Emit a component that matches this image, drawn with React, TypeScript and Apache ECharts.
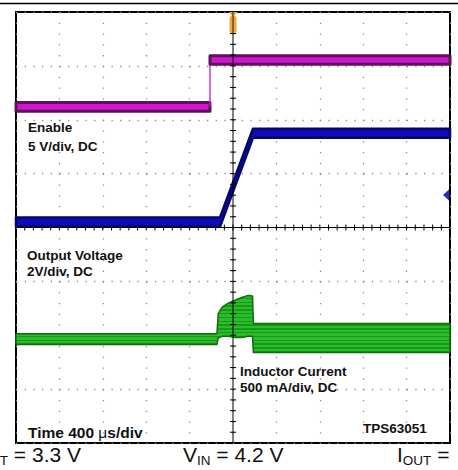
import React, { useEffect, useRef } from "react";
import * as echarts from "echarts";

// ---------- data (screen divisions: 10 horizontal x 8 vertical) ----------
const xDivisions = [0, 10];
const yDivisions = [0, 8];

// Enable (5 V/div)
const enableTime = [0, 4.47, 4.47, 10];
const enableLevel = [6.24, 6.24, 7.11, 7.11];

// Output voltage (2 V/div)
const voutTime = [0, 4.7, 5.46, 10];
const voutLevel = [4.1, 4.1, 5.75, 5.75];

// Inductor current (500 mA/div) upper / lower envelope of the switching ripple
const currentTime = [0, 4.63, 4.66, 4.75, 4.9, 5.05, 5.2, 5.35, 5.45, 5.47, 10];
const currentUpper = [2.03, 2.03, 2.4, 2.52, 2.6, 2.65, 2.7, 2.74, 2.73, 2.22, 2.22];
const currentLower = [1.83, 1.83, 1.95, 1.98, 1.98, 1.96, 1.96, 1.98, 1.98, 1.68, 1.68];

// ---------- styling ----------
const W = 458;
const H = 470;
const FONT = '"Liberation Sans", Arial, Helvetica, sans-serif';
const enableHalf = 0.08;
const voutHalf = 0.085;

function stripes(light: string, dark: string, n: number) {
  const stops: any[] = [];
  for (let i = 0; i < n; i++) {
    const a = i / n;
    const m = (i + 0.62) / n;
    const b = (i + 1) / n;
    stops.push({ offset: a, color: light });
    stops.push({ offset: m, color: light });
    stops.push({ offset: m, color: dark });
    stops.push({ offset: b, color: dark });
  }
  return new echarts.graphic.LinearGradient(0, 0, 0, 1, stops);
}

function bandRenderer(
  times: number[],
  upper: number[],
  lower: number[],
  fill: any,
  stroke: string,
  strokeW: number,
  stepColor: string
) {
  return (_params: any, api: any) => {
    const children: any[] = [];
    let start = 0;
    const flush = (end: number) => {
      if (end > start) {
        const pts: number[][] = [];
        for (let i = start; i <= end; i++) pts.push(api.coord([times[i], upper[i]]));
        for (let i = end; i >= start; i--) pts.push(api.coord([times[i], lower[i]]));
        children.push({
          type: "polygon",
          shape: { points: pts },
          style: { fill, stroke, lineWidth: strokeW, lineJoin: "round" },
        });
      }
    };
    for (let i = 0; i < times.length - 1; i++) {
      if (times[i + 1] === times[i]) {
        flush(i);
        const a = api.coord([times[i], (upper[i] + lower[i]) / 2]);
        const b = api.coord([times[i + 1], (upper[i + 1] + lower[i + 1]) / 2]);
        children.push({
          type: "line",
          shape: { x1: a[0], y1: a[1], x2: b[0], y2: b[1] },
          style: { stroke: stepColor, lineWidth: 1.3 },
        });
        start = i + 1;
      }
    }
    flush(times.length - 1);
    return { type: "group", children };
  };
}

function reticleRenderer(_params: any, api: any) {
  const children: any[] = [];
  const cx = (xDivisions[0] + xDivisions[1]) / 2;
  const cy = (yDivisions[0] + yDivisions[1]) / 2;
  const c = api.coord([cx, cy]);
  const l = api.coord([xDivisions[0], cy]);
  const r = api.coord([xDivisions[1], cy]);
  const t = api.coord([cx, yDivisions[1]]);
  const b = api.coord([cx, yDivisions[0]]);
  const st = { stroke: "#000", lineWidth: 1 };
  children.push({ type: "line", shape: { x1: l[0], y1: c[1], x2: r[0], y2: c[1] }, style: st });
  children.push({ type: "line", shape: { x1: c[0], y1: t[1], x2: c[0], y2: b[1] }, style: st });
  for (let k = 1; k < (xDivisions[1] - xDivisions[0]) * 5; k++) {
    const p = api.coord([xDivisions[0] + k / 5, cy]);
    children.push({ type: "line", shape: { x1: p[0], y1: p[1] - 3, x2: p[0], y2: p[1] + 3 }, style: st });
  }
  for (let k = 1; k < (yDivisions[1] - yDivisions[0]) * 5; k++) {
    const p = api.coord([cx, yDivisions[0] + k / 5]);
    children.push({ type: "line", shape: { x1: p[0] - 3, y1: p[1], x2: p[0] + 3, y2: p[1] }, style: st });
  }
  return { type: "group", children };
}

function label(text: string, x: number, y: number, size = 13.5) {
  return {
    type: "text",
    x,
    y,
    z: 20,
    style: {
      text,
      font: `bold ${size}px ${FONT}`,
      fill: "#111",
      textVerticalAlign: "middle",
      verticalAlign: "middle",
    },
  };
}

function subText(main: string, sub: string, rest: string, x: number, align: string) {
  return {
    type: "text",
    x,
    y: 442,
    z: 20,
    style: {
      text: `{v|${main}}{s|${sub}}{v|${rest}}`,
      textAlign: align,
      align,
      textVerticalAlign: "top",
      verticalAlign: "top",
      rich: {
        v: { fontSize: 21, fontFamily: FONT, fill: "#111", lineHeight: 25 },
        s: { fontSize: 13.5, fontFamily: FONT, fill: "#111", lineHeight: 16, verticalAlign: "bottom" },
      },
    },
  };
}

export default function App() {
  const ref = useRef<HTMLDivElement>(null);

  useEffect(() => {
    if (!ref.current) return;
    const chart = echarts.init(ref.current, null, { renderer: "svg" });
    const option: any = {
      animation: false,
      backgroundColor: "#fff",
      grid: {
        left: 16,
        top: 12,
        width: 434,
        height: 431,
        show: true,
        backgroundColor: "#fff",
        borderColor: "#000",
        borderWidth: 2,
      },
      xAxis: {
        type: "value",
        min: xDivisions[0],
        max: xDivisions[1],
        interval: 1,
        axisLine: { show: false },
        axisTick: { show: false },
        axisLabel: { show: false },
        splitLine: { show: true, lineStyle: { color: "#8c8c8c", width: 1.3, type: [1.3, 9.475] } },
      },
      yAxis: {
        type: "value",
        min: yDivisions[0],
        max: yDivisions[1],
        interval: 1,
        axisLine: { show: false },
        axisTick: { show: false },
        axisLabel: { show: false },
        splitLine: { show: true, lineStyle: { color: "#8c8c8c", width: 1.3, type: [1.3, 7.38] } },
      },
      series: [
        {
          type: "custom",
          name: "Enable",
          silent: true,
          z: 3,
          data: [[0, 0]],
          renderItem: bandRenderer(
            enableTime,
            enableLevel.map((v) => v + enableHalf),
            enableLevel.map((v) => v - enableHalf),
            "#d214d2",
            "#5a1259",
            3,
            "#c218c2"
          ),
        },
        {
          type: "custom",
          name: "Output Voltage",
          silent: true,
          z: 3,
          data: [[0, 0]],
          renderItem: bandRenderer(
            voutTime,
            voutLevel.map((v) => v + voutHalf),
            voutLevel.map((v) => v - voutHalf),
            "#0c0cb8",
            "#05056a",
            2.5,
            "#0c0cb8"
          ),
        },
        {
          type: "custom",
          name: "Inductor Current",
          silent: true,
          z: 3,
          data: [[0, 0]],
          renderItem: bandRenderer(
            currentTime,
            currentUpper,
            currentLower,
            stripes("#2cbb2c", "#169a16", 15),
            "#0b6e0b",
            1.5,
            "#1fae1f"
          ),
        },
        {
          type: "custom",
          name: "reticle",
          silent: true,
          z: 6,
          data: [[0, 0]],
          renderItem: reticleRenderer,
        },
      ],
      graphic: [
        { type: "line", shape: { x1: 0, y1: 3.5, x2: W, y2: 3.5 }, style: { stroke: "#000", lineWidth: 1.5 }, z: 20 },
        // trigger marker
        { type: "polygon", shape: { points: [[228.5, 12], [237.5, 12], [233, 17]] }, style: { fill: "#f2a53a" }, z: 21 },
        { type: "rect", shape: { x: 229.5, y: 16, width: 7, height: 17, r: 2 }, style: { fill: "#f2a53a" }, z: 21 },
        { type: "line", shape: { x1: 233, y1: 12, x2: 233, y2: 34 }, style: { stroke: "#222", lineWidth: 1 }, z: 22 },
        // channel 2 reference marker
        { type: "polygon", shape: { points: [[443, 195], [449, 189.5], [449, 200.5]] }, style: { fill: "#2a2ac8" }, z: 21 },
        label("Enable", 28, 127),
        label("5 V/div, DC", 28, 146),
        label("Output Voltage", 27, 255),
        label("2V/div, DC", 27, 271),
        label("Inductor Current", 240, 371),
        label("500 mA/div, DC", 240, 387),
        label("TPS63051", 363, 428),
        {
          type: "text",
          x: 28,
          y: 432,
          z: 20,
          style: {
            text: "{b|Time 400 }{m|μ}{b|s/div}",
            textVerticalAlign: "middle",
            verticalAlign: "middle",
            rich: {
              b: { font: `bold 15.5px ${FONT}`, fill: "#111" },
              m: { font: `15.5px ${FONT}`, fill: "#111" },
            },
          },
        },
        subText("V", "OUT", " = 3.3 V", 81, "right"),
        subText("V", "IN", " = 4.2 V", 183, "left"),
        subText("I", "OUT", " = ", 397, "left"),
      ],
    };
    chart.setOption(option);
    return () => chart.dispose();
  }, []);

  return (
    <div
      ref={ref}
      style={{ position: "fixed", left: 0, top: 0, width: W, height: H, background: "#fff" }}
    />
  );
}
